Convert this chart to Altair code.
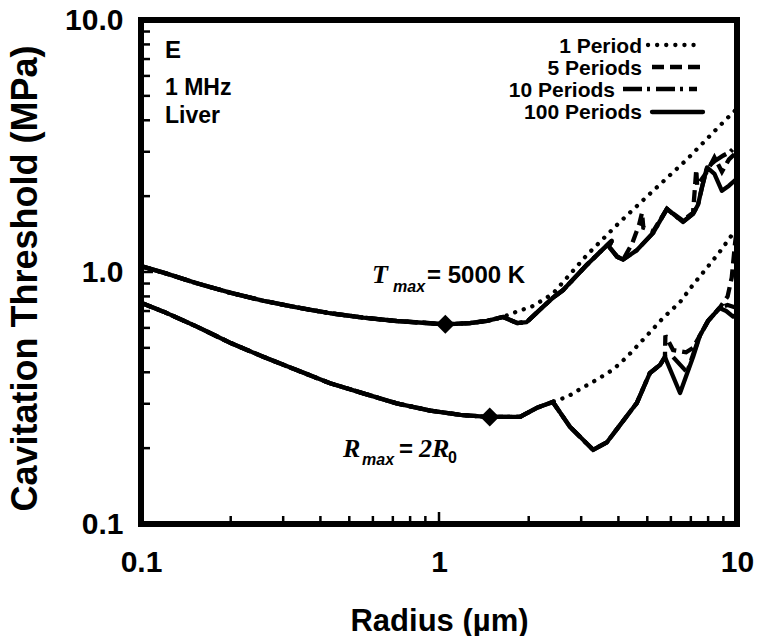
import altair as alt
import pandas as pd

SANS = "Liberation Sans"
SERIF = "Liberation Serif"

SERIES = ["1 Period", "5 Periods", "10 Periods", "100 Periods"]
panel_texts = ["E", "1 MHz", "Liver"]

# ---------------- T_max = 5000 K family ----------------
tmax_common_r = [0.1, 0.119, 0.154, 0.199, 0.257, 0.333, 0.431, 0.557, 0.721, 0.933, 1.05, 1.27, 1.45, 1.64]
tmax_common_p = [1.055, 0.994, 0.902, 0.828, 0.769, 0.724, 0.686, 0.659, 0.639, 0.626, 0.62, 0.627, 0.64, 0.663]
# shared by 5, 10 and 100 periods
tmax_multi_r = [1.83, 1.97, 2.23, 2.41, 2.61, 3.14, 3.47, 3.8, 3.72, 3.96, 4.15]
tmax_multi_p = [0.627, 0.633, 0.726, 0.79, 0.848, 1.07, 1.2, 1.33, 1.26, 1.15, 1.12]
tmax_1_r = [1.77, 2.07, 2.41, 3.14, 4.05, 5.23, 6.8, 8.74, 10.0]
tmax_1_p = [0.687, 0.733, 0.82, 1.17, 1.58, 2.1, 2.8, 3.8, 4.45]
tmax_5_r = [4.45, 4.7, 4.8, 4.85, 5.23, 5.82, 6.58, 7.12, 7.3, 7.35, 7.93, 8.4, 8.9, 9.4, 10.0]
tmax_5_p = [1.3, 1.55, 1.72, 1.5, 1.45, 1.78, 1.6, 1.72, 2.55, 2.2, 2.5, 2.85, 2.5, 2.8, 3.0]
tmax_10_r = [4.61, 5.23, 5.82, 6.58, 7.12, 7.4, 7.63, 7.93, 8.4, 9.0, 9.5, 10.0]
tmax_10_p = [1.22, 1.43, 1.78, 1.58, 1.70, 1.85, 2.17, 2.6, 2.75, 2.9, 3.0, 3.2]
tmax_100_r = [4.61, 5.23, 5.82, 6.58, 7.12, 7.4, 7.63, 7.93, 8.4, 8.9, 9.4, 10.0]
tmax_100_p = [1.22, 1.43, 1.78, 1.58, 1.70, 1.85, 2.17, 2.6, 2.45, 2.1, 2.2, 2.35]

# ---------------- R_max = 2 R0 family ----------------
rmax_common_r = [0.1, 0.119, 0.154, 0.199, 0.257, 0.333, 0.431, 0.557, 0.721, 0.933, 1.18, 1.45, 1.87, 2.13, 2.41]
rmax_common_p = [0.755, 0.696, 0.607, 0.524, 0.461, 0.408, 0.362, 0.330, 0.301, 0.282, 0.271, 0.266, 0.266, 0.289, 0.305]
rmax_multi_r = [2.75, 3.29, 3.66, 4.05, 4.61, 5.1, 5.52, 5.73]
rmax_multi_p = [0.243, 0.197, 0.211, 0.247, 0.302, 0.397, 0.428, 0.46]
rmax_1_r = [2.7, 3.0, 3.4, 3.84, 4.27, 4.99, 5.65, 6.44, 7.12, 7.93, 8.74, 9.6, 10.0]
rmax_1_p = [0.32, 0.345, 0.375, 0.41, 0.46, 0.56, 0.657, 0.76, 0.89, 1.04, 1.2, 1.4, 1.48]
rmax_5_r = [5.75, 6.1, 6.75, 7.12, 7.51, 8.0, 8.74, 9.3, 9.6, 9.85, 10.0]
rmax_5_p = [0.56, 0.49, 0.48, 0.5, 0.56, 0.64, 0.72, 0.8, 0.95, 1.3, 1.5]
rmax_10_r = [6.1, 6.8, 7.12, 7.51, 8.0, 8.74, 9.3, 10.0]
rmax_10_p = [0.46, 0.40, 0.47, 0.56, 0.64, 0.72, 0.74, 0.72]
rmax_100_r = [6.44, 7.12, 7.51, 8.0, 8.74, 9.2, 9.7, 10.0]
rmax_100_p = [0.331, 0.46, 0.56, 0.64, 0.72, 0.70, 0.665, 0.68]

# optimum markers
marker_r = [1.05, 1.48]
marker_p = [0.62, 0.266]

# axis ticks
axis_major = [0.1, 1, 10]
minor_ticks = [0.2, 0.3, 0.4, 0.5, 0.6, 0.7, 0.8, 0.9, 2, 3, 4, 5, 6, 7, 8, 9]
mid_major = [1]

# ---------------- build tables ----------------
def rows(family, series, r, p):
    return [dict(family=family, series=series, i=k, r=a, p=b) for k, (a, b) in enumerate(zip(r, p))]

recs = []
recs += rows("T", "1 Period", tmax_common_r + tmax_1_r, tmax_common_p + tmax_1_p)
recs += rows("T", "5 Periods", tmax_common_r + tmax_multi_r + tmax_5_r, tmax_common_p + tmax_multi_p + tmax_5_p)
recs += rows("T", "10 Periods", tmax_common_r + tmax_multi_r + tmax_10_r, tmax_common_p + tmax_multi_p + tmax_10_p)
recs += rows("T", "100 Periods", tmax_common_r + tmax_multi_r + tmax_100_r, tmax_common_p + tmax_multi_p + tmax_100_p)
recs += rows("R", "1 Period", rmax_common_r + rmax_1_r, rmax_common_p + rmax_1_p)
recs += rows("R", "5 Periods", rmax_common_r + rmax_multi_r + rmax_5_r, rmax_common_p + rmax_multi_p + rmax_5_p)
recs += rows("R", "10 Periods", rmax_common_r + rmax_multi_r + rmax_10_r, rmax_common_p + rmax_multi_p + rmax_10_p)
recs += rows("R", "100 Periods", rmax_common_r + rmax_multi_r + rmax_100_r, rmax_common_p + rmax_multi_p + rmax_100_p)
df = pd.DataFrame(recs)

W, H = 596, 504

xscale = alt.Scale(type="log", domain=[0.1, 10], nice=False)
yscale = alt.Scale(type="log", domain=[0.1, 10], nice=False)
xaxis = alt.Axis(values=axis_major, format="~g", title="Radius (µm)",
                 labelPadding=23, titleY=106, titleBaseline="alphabetic",
                 titleX=W / 2, titleAlign="center")
yaxis = alt.Axis(values=axis_major, format=".1f", title="Cavitation Threshold (MPa)",
                 labelPadding=18, titleX=-105, titleY=258, titleAngle=270,
                 titleBaseline="alphabetic", titleAlign="center", titleFontSize=36)

def X(field="r"):
    return alt.X(f"{field}:Q", scale=xscale, axis=xaxis)

def Y(field="p"):
    return alt.Y(f"{field}:Q", scale=yscale, axis=yaxis)

styles = {
    "1 Period": dict(strokeDash=[0.1, 9], strokeCap="round"),
    "5 Periods": dict(strokeDash=[12, 6], strokeCap="butt"),
    "10 Periods": dict(strokeDash=[19, 5, 3, 6], strokeCap="butt"),
    "100 Periods": dict(strokeCap="round", strokeJoin="round"),
}

layers = []
for s in SERIES:
    layers.append(
        alt.Chart(df[df.series == s]).mark_line(color="black", strokeWidth=4.3, **styles[s])
        .encode(x=X(), y=Y(), detail="family:N", order="i:Q")
    )

markers = alt.Chart(pd.DataFrame({"r": marker_r, "p": marker_p})).mark_point(
    shape="diamond", filled=True, size=360, color="black", opacity=1
).encode(x=X(), y=Y())

# inward tick marks
yt_minor = alt.Chart(pd.DataFrame({"p": minor_ticks})).mark_rule(color="black", strokeWidth=2.5).encode(
    y=Y(), x=alt.value(0), x2=alt.value(9))
yt_major = alt.Chart(pd.DataFrame({"p": mid_major})).mark_rule(color="black", strokeWidth=2.5).encode(
    y=Y(), x=alt.value(0), x2=alt.value(12))
xt_minor = alt.Chart(pd.DataFrame({"r": minor_ticks})).mark_rule(color="black", strokeWidth=2.5).encode(
    x=X(), y=alt.value(H), y2=alt.value(H - 8))
xt_major = alt.Chart(pd.DataFrame({"r": mid_major})).mark_rule(color="black", strokeWidth=2.5).encode(
    x=X(), y=alt.value(H), y2=alt.value(H - 12))

def label(text, x, y, size, font=SANS, style="normal", weight="bold", align="left"):
    return alt.Chart(pd.DataFrame({"t": [text]})).mark_text(
        x=x, y=y, align=align, baseline="alphabetic", font=font, fontSize=size,
        fontStyle=style, fontWeight=weight, color="black"
    ).encode(text="t:N")

texts = [
    label(panel_texts[0], 24, 38, 24),
    label(panel_texts[1], 24, 75, 23),
    label(panel_texts[2], 24, 103, 23),
    # T_max = 5000 K
    label("T", 231, 263, 26, font=SERIF, style="italic"),
    label("max", 252, 272, 16, style="italic"),
    label("= 5000 K", 286, 263, 24),
    # R_max = 2R0
    label("R", 202, 437, 26, font=SERIF, style="italic"),
    label("max", 221, 445, 16, style="italic"),
    label("=", 258, 437, 24),
    label("2R", 278, 437, 26, font=SERIF, style="italic"),
    label("0", 307, 443, 16),
]

# legend (labels left of samples)
leg_label_x = [501, 501, 474, 501]
leg_label_y = [33, 55, 77, 99]
leg_x1 = [507, 511, 482, 511]
leg_x2 = [556, 561, 556, 562]
leg_y = [25, 47, 69, 92]
legend = []
for k, s in enumerate(SERIES):
    legend.append(label(s, leg_label_x[k], leg_label_y[k], 21, align="right"))
    legend.append(
        alt.Chart(pd.DataFrame({"s": [s]})).mark_rule(color="black", strokeWidth=4.3, **styles[s])
        .encode(x=alt.value(leg_x1[k]), x2=alt.value(leg_x2[k]), y=alt.value(leg_y[k]))
    )

chart = alt.layer(
    yt_minor, yt_major, xt_minor, xt_major, *layers, markers, *texts, *legend
).properties(
    width=W, height=H,
    autosize=alt.AutoSizeParams(type="none"),
    padding={"left": 133, "top": 12, "right": 17, "bottom": 112},
).configure_view(
    stroke="black", strokeWidth=6
).configure_axis(
    grid=False, domain=False, ticks=False, tickSize=0,
    labelFont=SANS, labelFontWeight="bold", labelFontSize=30, labelColor="black",
    titleFont=SANS, titleFontWeight="bold", titleFontSize=31, titleColor="black",
    labelOverlap=False, labelFlush=False, labelBound=False,
)

chart.save("out.html", embed_options={"renderer": "svg", "actions": False})
